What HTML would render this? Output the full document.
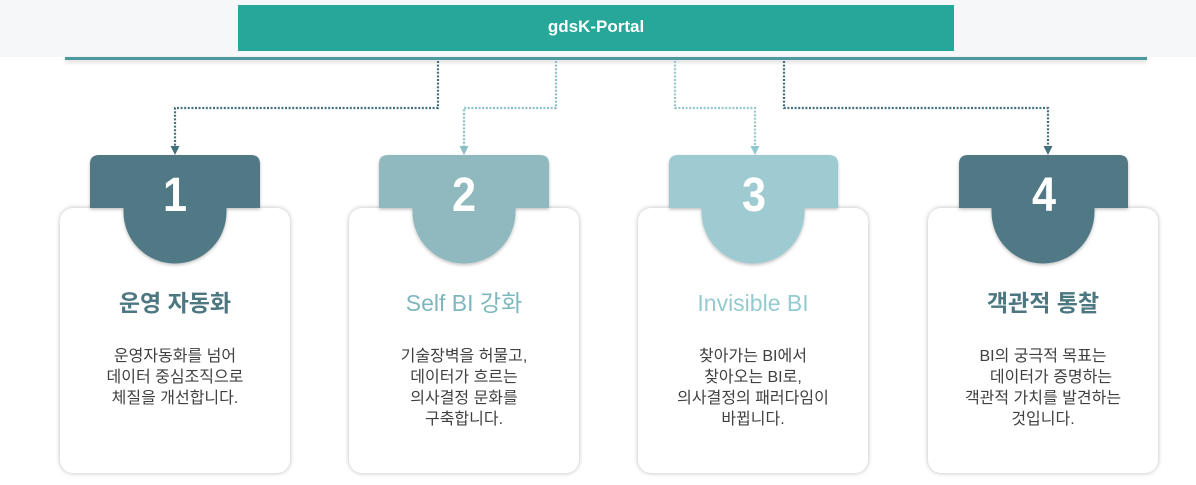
<!DOCTYPE html>
<html><head><meta charset="utf-8">
<style>
html,body{margin:0;padding:0;background:#fff;}
body{width:1196px;height:485px;position:relative;overflow:hidden;font-family:"Liberation Sans","Noto Sans CJK KR",sans-serif;}
.strip{position:absolute;left:0;top:0;width:1196px;height:57px;background:#f6f7f9;}
.bar{position:absolute;left:65px;top:57px;width:1082px;height:3px;background:#4b9aa0;box-shadow:0 2px 4px rgba(0,0,0,0.18);}
.portal{position:absolute;left:238px;top:5px;width:716px;height:46px;background:#27a69a;color:#fff;font-weight:bold;font-size:17px;line-height:44px;text-align:center;font-family:"Liberation Sans","Noto Sans CJK KR",sans-serif;}
.card{position:absolute;top:208px;width:230px;height:265px;background:#fff;border-radius:13px;box-shadow:0 0 5px rgba(0,0,0,0.28);z-index:1;}
svg{position:absolute;left:0;top:0;z-index:2;}
.num{position:absolute;top:172px;width:170px;text-align:center;color:#fff;font-family:"Liberation Sans",sans-serif;font-weight:bold;font-size:48px;line-height:48px;z-index:3;transform:scaleX(0.9);}
.title{position:absolute;top:288px;width:230px;text-align:center;font-size:23px;line-height:30px;z-index:3;font-family:"Liberation Sans","Noto Sans CJK KR",sans-serif;white-space:nowrap;}
.desc{position:absolute;top:346px;width:230px;text-align:center;font-size:16px;line-height:21px;color:#404040;z-index:3;font-family:"Liberation Sans","Noto Sans CJK KR",sans-serif;white-space:nowrap;}
</style></head><body>
<div class="strip"></div>
<div class="bar"></div>
<div class="portal">gdsK-Portal</div>

<div class="card" style="left:60px"></div>
<div class="card" style="left:349px"></div>
<div class="card" style="left:638px"></div>
<div class="card" style="left:928px"></div>

<svg width="1196" height="485" viewBox="0 0 1196 485">
<defs>
<filter id="sh" x="-20%" y="-20%" width="140%" height="150%">
<feDropShadow dx="0" dy="1.5" stdDeviation="1.5" flood-color="#000" flood-opacity="0.25"/>
</filter>
</defs>
<g fill="none" stroke-width="2.2" stroke-dasharray="2 1.6">
<path d="M438,61 V108 H175 V148" stroke="#43707b"/>
<path d="M556,61 V108 H464 V148" stroke="#8cbfc6"/>
<path d="M675,61 V108 H755 V148" stroke="#92c8ce"/>
<path d="M784,61 V108 H1048 V148" stroke="#43707b"/>
</g>
<polygon points="170.5,146 179.5,146 175,155" fill="#43707b"/>
<polygon points="459.5,146 468.5,146 464,155" fill="#8cbfc6"/>
<polygon points="750.5,146 759.5,146 755,155" fill="#92c8ce"/>
<polygon points="1043.5,146 1052.5,146 1048,155" fill="#43707b"/>
<g filter="url(#sh)">
<path d="M90,164 Q90,155 99,155 H251 Q260,155 260,164 V208 H226.5 V212 A51.5,51.5 0 0 1 123.5,212 V208 H90 Z" fill="#517985"/>
<path d="M379,164 Q379,155 388,155 H540 Q549,155 549,164 V208 H515.5 V212 A51.5,51.5 0 0 1 412.5,212 V208 H379 Z" fill="#8fb9be"/>
<path d="M669,164 Q669,155 678,155 H829 Q838,155 838,164 V208 H804.5 V212 A51.5,51.5 0 0 1 701.5,212 V208 H669 Z" fill="#9ecbd1"/>
<path d="M959,164 Q959,155 968,155 H1119 Q1128,155 1128,164 V208 H1094.5 V212 A51.5,51.5 0 0 1 991.5,212 V208 H959 Z" fill="#517985"/>
</g>
</svg>

<div class="num" style="left:90px">1</div>
<div class="num" style="left:379px">2</div>
<div class="num" style="left:669px">3</div>
<div class="num" style="left:959px">4</div>

<div class="title" style="left:60px;color:#4c7781;font-weight:bold">운영 자동화</div>
<div class="title" style="left:349px;color:#7db7bd">Self BI 강화</div>
<div class="title" style="left:638px;color:#95cad0">Invisible BI</div>
<div class="title" style="left:928px;color:#4c7781;font-weight:bold">객관적 통찰</div>

<div class="desc" style="left:60px">운영자동화를 넘어<br>데이터 중심조직으로<br>체질을 개선합니다.</div>
<div class="desc" style="left:349px">기술장벽을 허물고,<br>데이터가 흐르는<br>의사결정 문화를<br>구축합니다.</div>
<div class="desc" style="left:638px">찾아가는 BI에서<br>찾아오는 BI로,<br>의사결정의 패러다임이<br>바뀝니다.</div>
<div class="desc" style="left:928px">BI의 궁극적 목표는<br><span style="padding-left:16px">데이터가 증명하는</span><br>객관적 가치를 발견하는<br>것입니다.</div>
</body></html>
